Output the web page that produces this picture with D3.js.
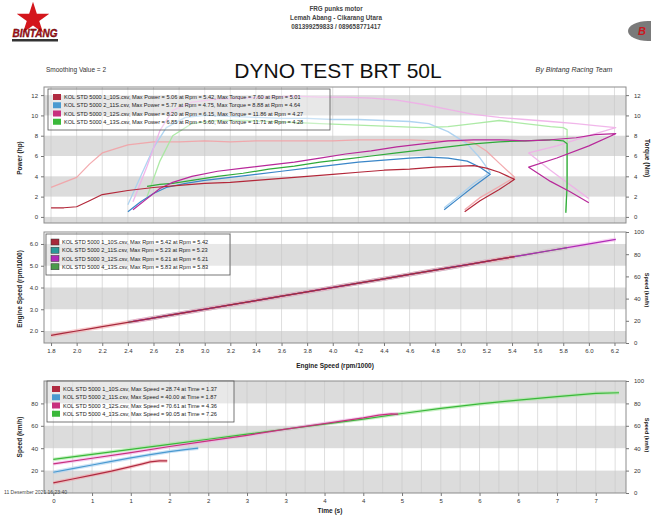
<!DOCTYPE html>
<html>
<head>
<meta charset="utf-8">
<script src="https://cdn.jsdelivr.net/npm/d3@7"></script>
<style>
  body { margin: 0; background: #fff; }
  svg { display: block; font-family: "Liberation Sans", Arial, sans-serif; }
</style>
</head>
<body>
<div id="chart"></div>
<script>
// ---- tick labels ----
const rpmTicks = [1.8, 2, 2.2, 2.4, 2.6, 2.8, 3, 3.2, 3.4, 3.6, 3.8, 4, 4.2, 4.4, 4.6, 4.8, 5, 5.2, 5.4, 5.6, 5.8, 6, 6.2];
const powerTicks = [0, 2, 4, 6, 8, 10, 12];
const engineTicks = [2, 3, 4, 5, 6];
const pctTicks = [0, 20, 40, 60, 80, 100];
const speedTicks = [20, 40, 60, 80];
const timeTicks = [0, 0.5, 1, 1.5, 2, 2.5, 3, 3.5, 4, 4.5, 5, 5.5, 6, 6.5, 7];

// ---- runs ----
const runColors = ['#b3283a', '#3a86c8', '#b8289a', '#2faa3a'];
const runLight = ['#f2a2a6', '#a6cff0', '#f0aee8', '#a4e89c'];
const midColors = ['#a8283c', '#2a9a9a', '#b02ab8', '#4a9a4a'];
const speedColors = ['#b02a40', '#4a9ad0', '#c8307e', '#3ab83a'];

const powerLegend = [
  'KOL STD 5000 1_10S.csv, Max Power = 5.06 at Rpm = 5.42, Max Torque = 7.60 at Rpm = 5.01',
  'KOL STD 5000 2_11S.csv, Max Power = 5.77 at Rpm = 4.75, Max Torque = 8.88 at Rpm = 4.64',
  'KOL STD 5000 3_12S.csv, Max Power = 8.20 at Rpm = 6.15, Max Torque = 11.86 at Rpm = 4.27',
  'KOL STD 5000 4_13S.csv, Max Power = 6.85 at Rpm = 5.60, Max Torque = 11.71 at Rpm = 4.28'
];
const rpmLegend = [
  'KOL STD 5000 1_10S.csv, Max Rpm = 5.42 at Rpm = 5.42',
  'KOL STD 5000 2_11S.csv, Max Rpm = 5.23 at Rpm = 5.23',
  'KOL STD 5000 3_12S.csv, Max Rpm = 6.21 at Rpm = 6.21',
  'KOL STD 5000 4_13S.csv, Max Rpm = 5.83 at Rpm = 5.83'
];
const speedLegend = [
  'KOL STD 5000 1_10S.csv, Max Speed = 28.74 at Time = 1.37',
  'KOL STD 5000 2_11S.csv, Max Speed = 40.00 at Time = 1.87',
  'KOL STD 5000 3_12S.csv, Max Speed = 70.61 at Time = 4.36',
  'KOL STD 5000 4_13S.csv, Max Speed = 90.05 at Time = 7.26'
];

// run 1 (red)
const run1Rpm    = [1.80, 1.90, 2.00, 2.10, 2.20, 2.40, 2.60, 2.80, 3.00, 3.20, 3.40, 3.60, 3.80, 4.00, 4.20, 4.40, 4.60, 4.80, 5.00, 5.10, 5.20, 5.30, 5.42, 5.30, 5.15, 5.03];
const run1Power  = [0.9, 0.9, 1.0, 1.6, 2.2, 2.6, 2.9, 3.1, 3.3, 3.4, 3.6, 3.8, 4.0, 4.2, 4.4, 4.6, 4.7, 4.9, 5.0, 5.06, 4.8, 4.4, 3.7, 2.7, 1.6, 0.5];
const run1Torque = [2.9, 3.4, 3.9, 5.2, 6.3, 7.1, 7.4, 7.4, 7.5, 7.4, 7.5, 7.5, 7.5, 7.5, 7.6, 7.6, 7.6, 7.5, 7.5, 7.3, 6.5, 5.3, 3.9, 3.0, 1.9, 0.7];
// run 2 (blue)
const run2Rpm    = [2.40, 2.50, 2.60, 2.70, 2.85, 3.00, 3.20, 3.40, 3.60, 3.80, 4.00, 4.20, 4.40, 4.60, 4.75, 4.90, 5.05, 5.15, 5.23, 5.10, 4.98, 4.87];
const run2Power  = [0.5, 1.5, 2.3, 2.9, 3.3, 3.6, 3.9, 4.2, 4.5, 4.8, 5.1, 5.4, 5.6, 5.8, 5.9, 5.8, 5.5, 4.9, 4.2, 3.0, 1.8, 0.7];
const run2Torque = [1.2, 4.0, 6.8, 8.8, 9.8, 10.0, 9.9, 9.8, 9.7, 9.7, 9.6, 9.6, 9.5, 9.4, 9.2, 8.4, 7.2, 5.8, 4.4, 3.3, 2.0, 0.9];
// run 3 (magenta)
const run3Rpm    = [2.44, 2.55, 2.65, 2.75, 2.90, 3.10, 3.30, 3.50, 3.70, 3.90, 4.10, 4.30, 4.50, 4.70, 4.90, 5.10, 5.30, 5.50, 5.70, 5.90, 6.05, 6.21, 6.00, 5.75, 5.53, 5.70, 5.85, 6.00];
const run3Power  = [0.7, 1.8, 2.8, 3.4, 4.0, 4.5, 4.8, 5.1, 5.4, 5.8, 6.2, 6.5, 6.9, 7.2, 7.5, 7.6, 7.6, 7.5, 7.6, 7.8, 8.1, 8.2, 7.0, 5.8, 4.9, 3.5, 2.5, 1.4];
const run3Torque = [1.5, 5.0, 8.5, 10.5, 11.3, 11.6, 11.7, 11.8, 11.9, 11.8, 11.8, 11.7, 11.5, 11.1, 10.6, 10.1, 9.8, 9.6, 9.4, 9.2, 9.0, 8.8, 8.0, 7.0, 6.3, 4.6, 3.2, 1.8];
// run 4 (green)
const run4Rpm    = [2.55, 2.65, 2.75, 2.90, 3.10, 3.30, 3.50, 3.70, 3.90, 4.10, 4.30, 4.50, 4.70, 4.90, 5.10, 5.30, 5.50, 5.70, 5.80, 5.83, 5.83, 5.82];
const run4Power  = [3.0, 3.2, 3.3, 3.6, 4.0, 4.3, 4.7, 5.0, 5.4, 5.7, 6.0, 6.3, 6.6, 6.9, 7.2, 7.4, 7.5, 7.6, 7.5, 7.2, 3.0, 0.4];
const run4Torque = [2.0, 5.5, 8.0, 9.2, 9.5, 9.5, 9.4, 9.3, 9.2, 9.1, 9.0, 8.9, 8.8, 8.9, 9.2, 9.5, 9.2, 8.9, 8.8, 8.6, 4.0, 0.5];

// speed vs time
const run1Time  = [0, 0.25, 0.5, 0.75, 1.0, 1.15, 1.25, 1.37, 1.47];
const run1Speed = [9, 12.5, 16, 19.5, 23.5, 26, 27.8, 28.7, 28.6];
const run2Time  = [0, 0.25, 0.5, 0.75, 1.0, 1.25, 1.5, 1.7, 1.87];
const run2Speed = [18.5, 21.8, 25, 28.2, 31.3, 34.2, 37, 38.8, 40];
const run3Time  = [0, 0.5, 1, 1.5, 2, 2.5, 3, 3.5, 4, 4.2, 4.36, 4.45];
const run3Speed = [26, 31, 36, 41.5, 46.5, 51.5, 57, 62, 67, 69.5, 70.6, 70.5];
const run4Time  = [0, 0.5, 1, 1.5, 2, 2.5, 3, 3.5, 4, 4.5, 5, 5.5, 6, 6.5, 7, 7.3];
const run4Speed = [30, 34.5, 39, 43.5, 48, 52.5, 57, 61.5, 66, 71, 75.5, 79.5, 83, 86, 89, 89.5];

const rpmRuns = [run1Rpm, run2Rpm, run3Rpm, run4Rpm];
const powerRuns = [run1Power, run2Power, run3Power, run4Power];
const torqueRuns = [run1Torque, run2Torque, run3Torque, run4Torque];
const timeRuns = [run1Time, run2Time, run3Time, run4Time];
const speedRuns = [run1Speed, run2Speed, run3Speed, run4Speed];

// ---- layout ----
const W = 651, H = 515;
const plotL = 44, plotR = 626;
const bandFill = '#dcdcdc';

const svg = d3.select('#chart').append('svg')
  .attr('width', W)
  .attr('height', H);

function panel(id, top, bottom, xDomain, yDomain, bands, grid) {
  const x = d3.scaleLinear().domain(xDomain).range([plotL, plotR]);
  const y = d3.scaleLinear().domain(yDomain).range([bottom, top]);
  svg.append('clipPath').attr('id', id)
    .append('rect')
    .attr('x', plotL).attr('y', top)
    .attr('width', plotR - plotL).attr('height', bottom - top);
  const g = svg.append('g').attr('clip-path', 'url(#' + id + ')');
  g.selectAll('rect.band')
    .data(bands)
    .enter()
    .append('rect')
    .attr('class', 'band')
    .attr('x', plotL)
    .attr('width', plotR - plotL)
    .attr('y', d => y(d[1]))
    .attr('height', d => y(d[0]) - y(d[1]))
    .attr('fill', bandFill);
  g.selectAll('line.grid')
    .data(grid)
    .enter()
    .append('line')
    .attr('x1', d => x(d)).attr('x2', d => x(d))
    .attr('y1', top).attr('y2', bottom)
    .attr('stroke', '#c8c8c8')
    .attr('stroke-width', 0.6);
  return { x, y, g, top, bottom };
}

function frame(p) {
  svg.append('rect')
    .attr('x', plotL).attr('y', p.top)
    .attr('width', plotR - plotL).attr('height', p.bottom - p.top)
    .attr('fill', 'none')
    .attr('stroke', '#8c8c8c')
    .attr('stroke-width', 1);
}

function styleAxis(sel) {
  sel.select('.domain').remove();
  sel.selectAll('text').attr('font-size', 6).attr('fill', '#333');
  sel.selectAll('line').attr('stroke', '#777');
}

function drawLine(p, xs, ys, color, width, opacity) {
  p.g.append('path')
    .datum(d3.zip(xs, ys))
    .attr('fill', 'none')
    .attr('stroke', color)
    .attr('stroke-width', width)
    .attr('stroke-opacity', opacity)
    .attr('stroke-linejoin', 'round')
    .attr('d', d3.line().x(d => p.x(d[0])).y(d => p.y(d[1])));
}

function legend(x0, y0, w, h, texts, colors, size, outline) {
  const lg = svg.append('g');
  lg.append('rect')
    .attr('x', x0).attr('y', y0).attr('width', w).attr('height', h)
    .attr('fill', '#fff').attr('fill-opacity', 0.35)
    .attr('stroke', '#555').attr('stroke-width', 0.8);
  texts.forEach((t, i) => {
    const yy = y0 + 5 + i * (h - 8) / 4;
    lg.append('rect')
      .attr('x', x0 + 5).attr('y', yy)
      .attr('width', 8).attr('height', 6)
      .attr('fill', colors[i])
      .attr('stroke', outline ? '#333' : 'none')
      .attr('stroke-width', 0.5);
    lg.append('text')
      .attr('x', x0 + 16).attr('y', yy + 5)
      .attr('font-size', size)
      .attr('fill', '#222')
      .text(t);
  });
}

function vTitle(x, y, text, rot, size) {
  svg.append('text')
    .attr('transform', 'translate(' + x + ',' + y + ') rotate(' + rot + ')')
    .attr('text-anchor', 'middle')
    .attr('font-size', size || 6.5)
    .attr('font-weight', 'bold')
    .attr('fill', '#222')
    .text(text);
}

// ---- header ----
svg.append('path')
  .attr('transform', 'translate(33,19)')
  .attr('d', d3.symbol(d3.symbolStar, 330)())
  .attr('fill', '#d4161c');
svg.append('text')
  .attr('x', 35).attr('y', 37)
  .attr('text-anchor', 'middle')
  .attr('font-size', 10).attr('font-weight', 'bold').attr('font-style', 'italic')
  .attr('fill', '#b01018').attr('stroke', '#400').attr('stroke-width', 0.3)
  .text('BINTANG');
svg.append('rect').attr('x', 12).attr('y', 39).attr('width', 46).attr('height', 2.5).attr('fill', '#333');

svg.append('ellipse').attr('cx', 648).attr('cy', 31).attr('rx', 20).attr('ry', 10).attr('fill', '#7a7a7a');
svg.append('text').attr('x', 638).attr('y', 35).attr('font-size', 11).attr('font-weight', 'bold')
  .attr('font-style', 'italic').attr('fill', '#c81820').text('B');

const headerLines = ['FRG punks motor', 'Lemah Abang - Cikarang Utara', '081399259833 / 089658771417'];
headerLines.forEach((t, i) => {
  svg.append('text')
    .attr('x', 336).attr('y', 11 + i * 9)
    .attr('text-anchor', 'middle')
    .attr('font-size', 6.3).attr('font-weight', 'bold').attr('fill', '#444')
    .text(t);
});

svg.append('text').attr('x', 46).attr('y', 72)
  .attr('font-size', 6.5).attr('fill', '#333').text('Smoothing Value = 2');
svg.append('text').attr('x', 338).attr('y', 78)
  .attr('text-anchor', 'middle')
  .attr('font-size', 21).attr('fill', '#111').text('DYNO TEST BRT 50L');
svg.append('text').attr('x', 574).attr('y', 72)
  .attr('text-anchor', 'middle')
  .attr('font-size', 7).attr('font-style', 'italic').attr('fill', '#333').text('By Bintang Racing Team');

// ---- power / torque chart ----
const p1 = panel('clipTop', 87, 223, [1.745, 6.29], [-0.6, 12.8],
  [[10, 12], [6, 8], [2, 4], [-2, 0]], rpmTicks);
[0, 1, 2, 3].forEach(i => drawLine(p1, rpmRuns[i], torqueRuns[i], runLight[i], 1.3, 0.9));
[3, 1, 2, 0].forEach(i => drawLine(p1, rpmRuns[i], powerRuns[i], runColors[i], 1.2, 1));
frame(p1);
svg.append('g').attr('transform', 'translate(' + plotL + ',0)')
  .call(d3.axisLeft(p1.y).tickValues(powerTicks).tickSize(3).tickPadding(3)).call(styleAxis);
svg.append('g').attr('transform', 'translate(' + plotR + ',0)')
  .call(d3.axisRight(p1.y).tickValues(powerTicks).tickSize(3).tickPadding(5)).call(styleAxis);
vTitle(22, 158, 'Power (hp)', -90);
vTitle(645, 158, 'Torque (Nm)', 90);
legend(48, 89, 282, 41, powerLegend, speedColors, 5.6, false);

// ---- engine speed chart ----
const p2 = panel('clipMid', 232, 343, [1.745, 6.29], [1.45, 6.55],
  [[5, 6], [3, 4], [1, 2]], rpmTicks);
const p2r = d3.scaleLinear().domain([0, 100]).range([343, 232]);
const upRuns = rpmRuns.map(r => r.slice(0, r.indexOf(d3.max(r)) + 1));
[3, 1, 2, 0].forEach(i => drawLine(p2, upRuns[i], upRuns[i], runLight[i], 4, 0.55));
[3, 1, 2, 0].forEach(i => drawLine(p2, upRuns[i], upRuns[i], midColors[i], 1.2, 1));
frame(p2);
svg.append('g').attr('transform', 'translate(' + plotL + ',0)')
  .call(d3.axisLeft(p2.y).tickValues(engineTicks).tickSize(3).tickPadding(3)).call(styleAxis);
svg.append('g').attr('transform', 'translate(' + plotR + ',0)')
  .call(d3.axisRight(p2r).tickValues(pctTicks).tickSize(3).tickPadding(5)).call(styleAxis);
svg.append('g').attr('transform', 'translate(0,343)')
  .call(d3.axisBottom(p2.x).tickValues(rpmTicks).tickSize(3).tickPadding(3)).call(styleAxis);
vTitle(22, 289, 'Engine Speed (rpm/1000)', -90);
vTitle(645, 290, 'Speed (km/h)', 90, 5.5);
svg.append('text').attr('x', 335).attr('y', 368).attr('text-anchor', 'middle')
  .attr('font-size', 6.5).attr('font-weight', 'bold').attr('fill', '#222').text('Engine Speed (rpm/1000)');
legend(46, 234, 184, 41, rpmLegend, midColors, 5.6, true);

// ---- speed vs time chart ----
const p3 = panel('clipBot', 381, 493, [-0.12, 7.39], [0, 100],
  [[80, 100], [40, 60], [0, 20]], d3.range(0, 7.4, 0.25));
[3, 2, 1, 0].forEach(i => drawLine(p3, timeRuns[i], speedRuns[i], runLight[i], 3.5, 0.6));
[3, 2, 1, 0].forEach(i => drawLine(p3, timeRuns[i], speedRuns[i], speedColors[i], 1.2, 1));
frame(p3);
svg.append('g').attr('transform', 'translate(' + plotL + ',0)')
  .call(d3.axisLeft(p3.y).tickValues(speedTicks).tickSize(3).tickPadding(3)).call(styleAxis);
svg.append('g').attr('transform', 'translate(' + plotR + ',0)')
  .call(d3.axisRight(p3.y).tickValues(pctTicks).tickSize(3).tickPadding(5)).call(styleAxis);
svg.append('g').attr('transform', 'translate(0,493)')
  .call(d3.axisBottom(p3.x).tickValues(timeTicks).tickSize(3).tickPadding(3)).call(styleAxis);
vTitle(22, 437, 'Speed (km/h)', -90);
vTitle(645, 435, 'Speed (km/h)', 90, 5.5);
svg.append('text').attr('x', 330).attr('y', 513).attr('text-anchor', 'middle')
  .attr('font-size', 6.5).attr('font-weight', 'bold').attr('fill', '#222').text('Time (s)');
legend(47, 381, 187, 41, speedLegend, speedColors, 5.6, false);
svg.append('text').attr('x', 4).attr('y', 494)
  .attr('font-size', 5).attr('fill', '#444').text('11 Desember 2021 16:23:40');
</script>
</body>
</html>
